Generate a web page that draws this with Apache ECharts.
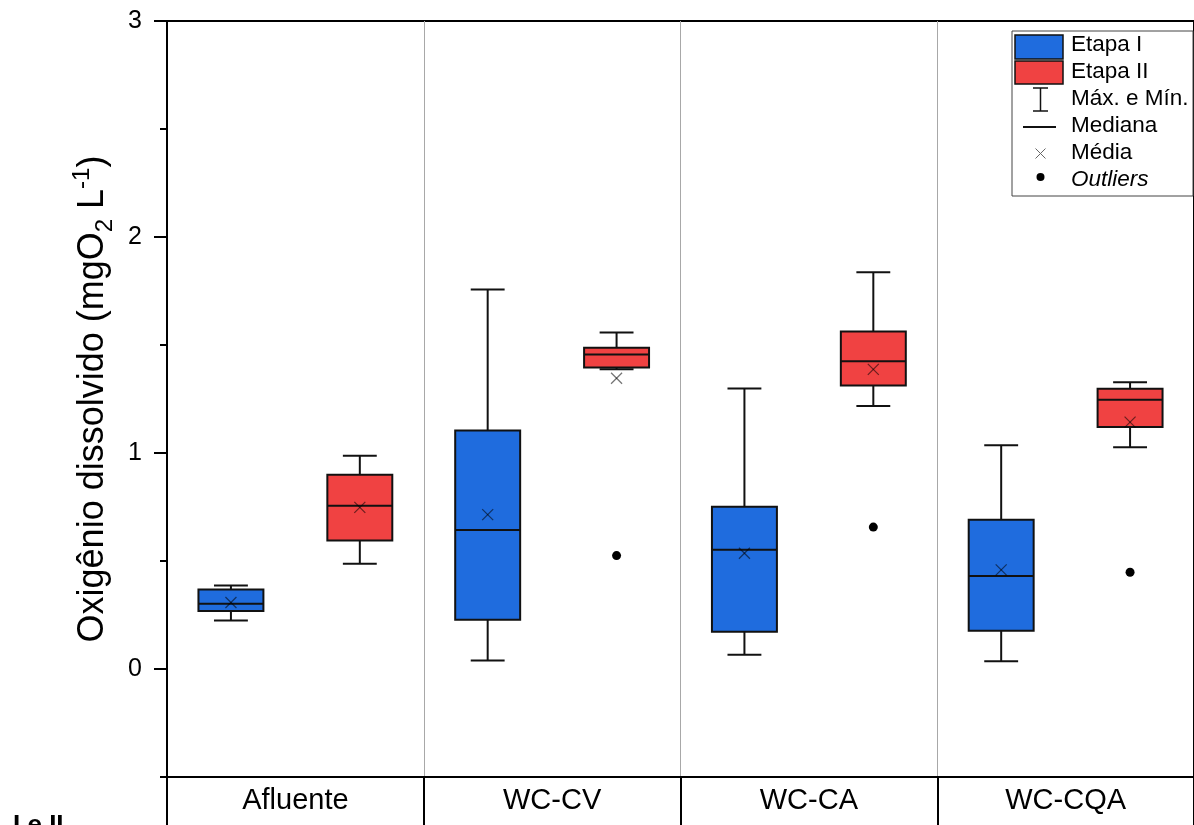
<!DOCTYPE html>
<html>
<head>
<meta charset="utf-8">
<script src="https://cdn.jsdelivr.net/npm/echarts@6/dist/echarts.min.js"></script>
<style>
  html, body { margin: 0; padding: 0; background: #fff; }
  #chart { width: 1194px; height: 825px; }
</style>
</head>
<body>
<div id="chart"></div>
<script>
// Dissolved oxygen per sampling point, stage I (blue) and stage II (red)
const categories = ['Afluente', 'WC-CV', 'WC-CA', 'WC-CQA'];

// [categoryIndex, min, Q1, median, Q3, max]
const etapa1Boxes = [
  [0, 0.225, 0.268, 0.302, 0.368, 0.387],
  [1, 0.039, 0.228, 0.643, 1.104, 1.757],
  [2, 0.066, 0.172, 0.552, 0.751, 1.299],
  [3, 0.036, 0.177, 0.431, 0.691, 1.036]
];
const etapa2Boxes = [
  [0, 0.487, 0.595, 0.756, 0.899, 0.987],
  [1, 1.388, 1.396, 1.456, 1.487, 1.558],
  [2, 1.218, 1.312, 1.425, 1.562, 1.837],
  [3, 1.027, 1.120, 1.246, 1.297, 1.328]
];

// [categoryIndex, mean]
const etapa1Means = [[0, 0.308], [1, 0.715], [2, 0.536], [3, 0.459]];
const etapa2Means = [[0, 0.748], [1, 1.346], [2, 1.387], [3, 1.143]];

// [categoryIndex, value]
const etapa2Outliers = [[1, 0.525], [2, 0.657], [3, 0.448]];

const yMajorTicks = [0, 1, 2, 3];
const yMinorTicks = [-0.5, 0.5, 1.5, 2.5];

const BLUE = '#1F6CDE';
const RED = '#F04242';
const FONT = 'Liberation Sans';

// horizontal placement inside a category band (fractions of band width)
const OFFSET_FRAC = 0.251;
const BOX_FRAC = 0.253;
const CAP_FRAC = 0.132;

function centerX(api, cat, side) {
  const band = api.size([1, 0])[0];
  return api.coord([cat, 0])[0] + side * OFFSET_FRAC * band;
}

function boxRenderer(side, color) {
  return function (params, api) {
    const cat = api.value(0);
    const band = api.size([1, 0])[0];
    const cx = centerX(api, cat, side);
    const y = (v) => api.coord([cat, v])[1];
    const yMin = y(api.value(1)), yQ1 = y(api.value(2)), yMed = y(api.value(3));
    const yQ3 = y(api.value(4)), yMax = y(api.value(5));
    const hw = band * BOX_FRAC / 2;
    const cw = band * CAP_FRAC / 2;
    const ls = { stroke: '#111', lineWidth: 2 };
    return {
      type: 'group',
      children: [
        { type: 'line', shape: { x1: cx, y1: yMax, x2: cx, y2: yQ3 }, style: ls },
        { type: 'line', shape: { x1: cx, y1: yQ1, x2: cx, y2: yMin }, style: ls },
        { type: 'line', shape: { x1: cx - cw, y1: yMax, x2: cx + cw, y2: yMax }, style: ls },
        { type: 'line', shape: { x1: cx - cw, y1: yMin, x2: cx + cw, y2: yMin }, style: ls },
        { type: 'rect', shape: { x: cx - hw, y: yQ3, width: 2 * hw, height: yQ1 - yQ3 },
          style: { fill: color, stroke: '#111', lineWidth: 2 } },
        { type: 'line', shape: { x1: cx - hw, y1: yMed, x2: cx + hw, y2: yMed }, style: ls }
      ]
    };
  };
}

function meanRenderer(side) {
  return function (params, api) {
    const cat = api.value(0);
    const cx = centerX(api, cat, side);
    const cy = api.coord([cat, api.value(1)])[1];
    const r = 5.5;
    const st = { stroke: 'rgba(0,0,0,0.55)', lineWidth: 1.2 };
    return {
      type: 'group',
      children: [
        { type: 'line', shape: { x1: cx - r, y1: cy - r, x2: cx + r, y2: cy + r }, style: st },
        { type: 'line', shape: { x1: cx - r, y1: cy + r, x2: cx + r, y2: cy - r }, style: st }
      ]
    };
  };
}

function outlierRenderer(side) {
  return function (params, api) {
    const cat = api.value(0);
    const cx = centerX(api, cat, side);
    const cy = api.coord([cat, api.value(1)])[1];
    return { type: 'circle', shape: { cx: cx, cy: cy, r: 4.5 }, style: { fill: '#000' } };
  };
}

// legend drawn as a framed key
const LX = 1012, LY = 31;
const legendTextStyle = (txt, y, italic) => ({
  type: 'text', x: 1071, y: y,
  style: { text: txt, fill: '#000', font: (italic ? 'italic ' : '') + '22.5px ' + FONT, verticalAlign: 'middle' }
});
const legendGraphic = {
  type: 'group',
  children: [
    { type: 'rect', shape: { x: LX, y: LY, width: 181, height: 165 }, style: { fill: '#fff', stroke: '#444', lineWidth: 1 } },
    { type: 'rect', shape: { x: 1015, y: 35, width: 48, height: 24 }, style: { fill: BLUE, stroke: '#111', lineWidth: 1.5 } },
    { type: 'rect', shape: { x: 1015, y: 61, width: 48, height: 23 }, style: { fill: RED, stroke: '#111', lineWidth: 1.5 } },
    { type: 'line', shape: { x1: 1040.5, y1: 88, x2: 1040.5, y2: 111 }, style: { stroke: '#111', lineWidth: 1.5 } },
    { type: 'line', shape: { x1: 1033, y1: 88, x2: 1048, y2: 88 }, style: { stroke: '#111', lineWidth: 1.5 } },
    { type: 'line', shape: { x1: 1033, y1: 111, x2: 1048, y2: 111 }, style: { stroke: '#111', lineWidth: 1.5 } },
    { type: 'line', shape: { x1: 1023, y1: 127, x2: 1056, y2: 127 }, style: { stroke: '#111', lineWidth: 2 } },
    { type: 'line', shape: { x1: 1035.5, y1: 148.5, x2: 1045.5, y2: 158.5 }, style: { stroke: '#666', lineWidth: 1 } },
    { type: 'line', shape: { x1: 1035.5, y1: 158.5, x2: 1045.5, y2: 148.5 }, style: { stroke: '#666', lineWidth: 1 } },
    { type: 'circle', shape: { cx: 1040.5, cy: 177, r: 4 }, style: { fill: '#000' } },
    legendTextStyle('Etapa I', 45),
    legendTextStyle('Etapa II', 72),
    legendTextStyle('Máx. e Mín.', 99),
    legendTextStyle('Mediana', 126),
    legendTextStyle('Média', 153),
    legendTextStyle('Outliers', 180, true)
  ]
};

const chart = echarts.init(document.getElementById('chart'));
chart.setOption({
  backgroundColor: '#fff',
  animation: false,
  textStyle: { fontFamily: FONT },
  grid: {
    left: 167, top: 21, right: -2, bottom: 48,
    show: true, borderColor: '#000', borderWidth: 2, backgroundColor: 'transparent'
  },
  xAxis: {
    type: 'category',
    data: categories,
    boundaryGap: true,
    axisLine: { onZero: false, lineStyle: { color: '#000', width: 2 } },
    axisTick: { show: true, length: 50, inside: false, lineStyle: { color: '#000', width: 2 } },
    axisLabel: { fontSize: 29, color: '#000', margin: 9, fontFamily: FONT },
    splitLine: { show: true, lineStyle: { color: '#a8a8a8', width: 1 } }
  },
  yAxis: [
    {
      type: 'value', min: -0.5, max: 3,
      position: 'left',
      axisLine: { show: true, lineStyle: { color: '#000', width: 2 } },
      axisTick: { show: true, length: 13, customValues: yMajorTicks, lineStyle: { color: '#000', width: 2 } },
      axisLabel: { customValues: yMajorTicks, fontSize: 25, color: '#000', margin: 25, fontFamily: FONT },
      splitLine: { show: false },
      name: 'Oxigênio dissolvido (mgO{sub|2} L{sup|-1})',
      nameLocation: 'middle',
      nameGap: 50,
      nameRotate: 90,
      nameTextStyle: {
        fontSize: 36, color: '#000', fontFamily: FONT, lineHeight: 47,
        rich: {
          sub: { fontSize: 24, lineHeight: 24, verticalAlign: 'bottom', color: '#000', fontFamily: FONT },
          sup: { fontSize: 24, lineHeight: 24, verticalAlign: 'top', color: '#000', fontFamily: FONT }
        }
      }
    },
    {
      type: 'value', min: -0.5, max: 3,
      position: 'left',
      axisLine: { show: false },
      axisTick: { show: true, length: 7, customValues: yMinorTicks, lineStyle: { color: '#000', width: 2 } },
      axisLabel: { show: false },
      splitLine: { show: false }
    }
  ],
  series: [
    { name: 'Etapa I', type: 'custom', renderItem: boxRenderer(-1, BLUE), data: etapa1Boxes, encode: { x: 0, y: [1, 2, 3, 4, 5] }, z: 2 },
    { name: 'Etapa II', type: 'custom', renderItem: boxRenderer(1, RED), data: etapa2Boxes, encode: { x: 0, y: [1, 2, 3, 4, 5] }, z: 2 },
    { name: 'Média I', type: 'custom', renderItem: meanRenderer(-1), data: etapa1Means, encode: { x: 0, y: 1 }, z: 3 },
    { name: 'Média II', type: 'custom', renderItem: meanRenderer(1), data: etapa2Means, encode: { x: 0, y: 1 }, z: 3 },
    { name: 'Outliers II', type: 'custom', renderItem: outlierRenderer(1), data: etapa2Outliers, encode: { x: 0, y: 1 }, z: 3 }
  ],
  graphic: [
    legendGraphic,
    { type: 'text', x: 13, y: 826, style: { text: 'I e II', fill: '#000', font: 'bold 26px ' + FONT, verticalAlign: 'middle' } }
  ]
});
</script>
</body>
</html>
